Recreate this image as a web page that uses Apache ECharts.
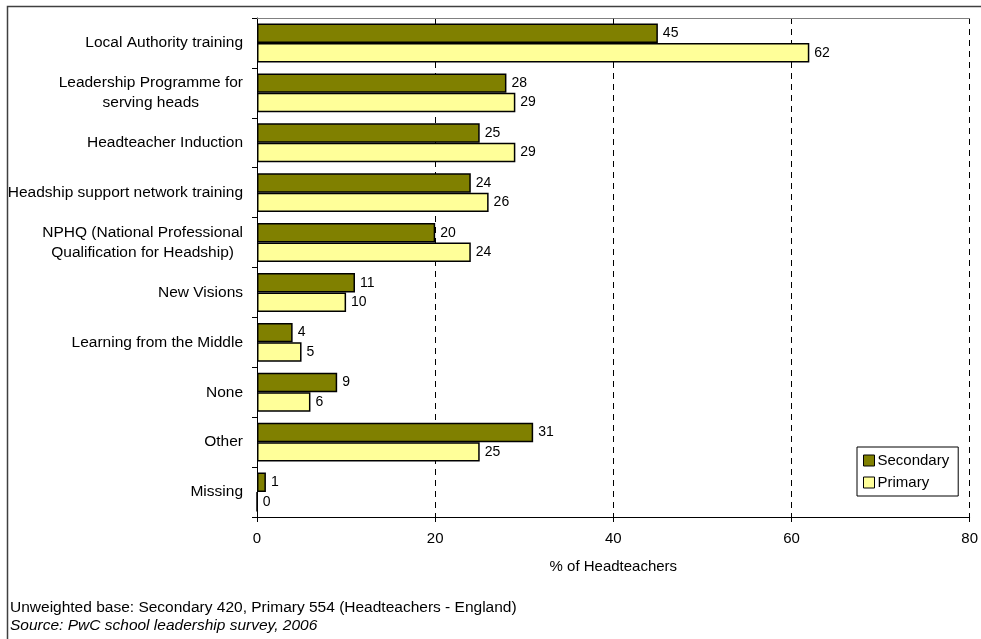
<!DOCTYPE html>
<html>
<head>
<meta charset="utf-8">
<script src="https://cdn.jsdelivr.net/npm/echarts@6/dist/echarts.min.js"></script>
<style>
html,body{margin:0;padding:0;background:#fff;}
#chart{width:981px;height:639px;}
</style>
</head>
<body>
<div id="chart"></div>
<script>
const categories = [
  'Local Authority training',
  'Leadership Programme for\nserving heads',
  'Headteacher Induction',
  'Headship support network training',
  'NPHQ (National Professional\nQualification for Headship)',
  'New Visions',
  'Learning from the Middle',
  'None',
  'Other',
  'Missing'
];
const secondaryValues = [45, 28, 25, 24, 20, 11, 4, 9, 31, 1];
const primaryValues = [62, 29, 29, 26, 24, 10, 5, 6, 25, 0];
const seriesNames = ['Secondary', 'Primary'];
const xMin = 0, xMax = 80, xInterval = 20;
const axisTitle = '% of Headteachers';
const footnote = 'Unweighted base: Secondary 420, Primary 554 (Headteachers - England)';
const sourceNote = 'Source: PwC school leadership survey, 2006';

const FONT = "'Liberation Sans', Arial, sans-serif";
const chart = echarts.init(document.getElementById('chart'), null, {renderer: 'canvas'});

const labelStyle = {
  show: true, position: 'right', distance: 5,
  fontSize: 14, color: '#000', fontFamily: FONT
};

chart.setOption({
  animation: false,
  backgroundColor: '#fff',
  textStyle: {fontFamily: FONT},
  graphic: [{
    type: 'rect', left: 5, top: 4, silent: true,
    shape: {width: 2000, height: 2000},
    style: {fill: 'none', stroke: '#404040', lineWidth: 1.5}
  }],
  title: {
    text: footnote,
    subtext: sourceNote,
    left: 10, top: 600, padding: 0, itemGap: 2,
    textStyle: {fontSize: 15.5, fontWeight: 'normal', color: '#000', fontFamily: FONT},
    subtextStyle: {fontSize: 15.5, fontStyle: 'italic', color: '#000', fontFamily: FONT}
  },
  legend: {
    orient: 'vertical', left: 857, top: 447,
    padding: [6, 9, 6, 6], itemGap: 7,
    itemWidth: 11, itemHeight: 11,
    backgroundColor: '#fff', borderColor: '#000', borderWidth: 1,
    textStyle: {fontSize: 15, color: '#000', fontFamily: FONT, padding: [0, 0, 0, -2]},
    icon: 'rect',
    itemStyle: {borderColor: '#000', borderWidth: 1},
    data: seriesNames
  },
  grid: {left: 257, right: 9, top: 18, bottom: 122, containLabel: false},
  xAxis: [{
    type: 'value', min: xMin, max: xMax, interval: xInterval,
    position: 'bottom',
    name: axisTitle, nameLocation: 'middle', nameGap: 42,
    nameTextStyle: {fontSize: 15, color: '#000', fontFamily: FONT},
    axisLine: {show: true, lineStyle: {color: '#000', width: 1}},
    axisTick: {show: true, length: 5, lineStyle: {color: '#000'}},
    axisLabel: {fontSize: 15, color: '#000', margin: 14, fontFamily: FONT},
    splitLine: {show: true, lineStyle: {color: '#000', type: [6, 5], width: 1}}
  }, {
    type: 'value', min: xMin, max: xMax, interval: xInterval,
    position: 'top',
    axisLine: {show: true, lineStyle: {color: '#808080', width: 1}},
    axisTick: {show: false}, axisLabel: {show: false}, splitLine: {show: false}
  }],
  yAxis: {
    type: 'category', data: categories, inverse: true,
    axisLine: {show: true, lineStyle: {color: '#000', width: 1}},
    axisTick: {show: true, length: 5, lineStyle: {color: '#000'}},
    axisLabel: {
      margin: 14, color: '#000', fontSize: 15.5, fontFamily: FONT,
      formatter: v => v.split('\n').map(s => '{c|' + s + '}').join('\n'),
      rich: {c: {align: 'center', fontSize: 15.5, lineHeight: 20, color: '#000', fontFamily: FONT}}
    },
    splitLine: {show: false}
  },
  series: [{
    name: seriesNames[0], type: 'bar', data: secondaryValues,
    barGap: '0%', barCategoryGap: '22%',
    itemStyle: {color: '#808000', borderColor: '#000', borderWidth: 1.5},
    label: labelStyle
  }, {
    name: seriesNames[1], type: 'bar', data: primaryValues,
    barGap: '0%', barCategoryGap: '22%',
    itemStyle: {color: '#FFFF99', borderColor: '#000', borderWidth: 1.5},
    label: labelStyle
  }]
});
</script>
</body>
</html>
